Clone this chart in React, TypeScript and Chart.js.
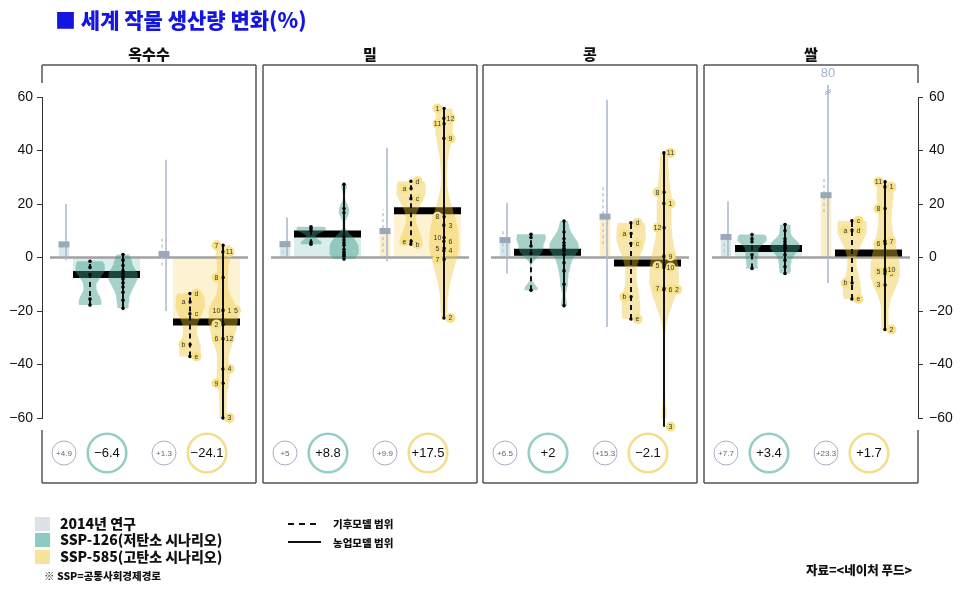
import React, { useEffect, useRef } from 'react';
import { Chart, registerables } from 'chart.js';

Chart.register(...registerables);

// ---------------- data ----------------
const crops = ['옥수수', '밀', '콩', '쌀'];
const yTicks = [-60, -40, -20, 0, 20, 40, 60];

// 2014 study (compared with SSP-126 / SSP-585)
const study2014A = [4.9, 5, 6.5, 7.7];
const study2014B = [1.3, 9.9, 15.3, 23.3];
const study2014AMin = [-1, 0, -6, 0.5];
const study2014AMax = [20, 15, 20.5, 21];
const study2014BMin = [-20, -1.5, -26, -9.5];
const study2014BMax = [36.5, 41, 59, 80];
const study2014AClimMin = [3.5, 1.5, 2, 2];
const study2014AClimMax = [6, 4.5, 10, 6];
const study2014BClimMin = [-3, 2, 5, 17];
const study2014BClimMax = [7, 18, 27, 30];

const median126 = [-6.4, 8.8, 2, 3.4];
const median585 = [-24.1, 17.5, -2.1, 1.7];

const climate126 = [
  [-1.4, -3.7, -6.5, -15.5, -17.8],
  [11.5, 10.8, 10, 5.8, 5],
  [8.7, 7.5, 4.3, 1.5, -12.2],
  [8.6, 7, 5.9, 1, -4.1],
];
const agri126 = [
  [1.1, -1, -3, -5, -6, -7, -8, -9.5, -11, -13, -16, -19],
  [27.4, 18.3, 16.7, 7.7, 6.5, 5.5, 4.6, 3, 2, 1.2, 0.5, -0.6],
  [13.6, 9.5, 7, 5.5, 4.5, 3.5, 2.5, 1, -2, -5, -10, -18],
  [12.3, 10, 7, 6, 5, 4, 3.5, 2.5, 1, -1, -3.5, -6],
];
const climateLabels = ['a', 'b', 'c', 'd', 'e'];
const climate585 = [
  [-16.6, -32.5, -21, -13.5, -37],
  [25.8, 5, 22, 28.5, 6.1],
  [9, -14.7, 5.2, 13, -23],
  [10.2, -9.5, 13.7, 10.2, -15.5],
];
const agriLabels = ['1', '2', '3', '4', '5', '6', '7', '8', '9', '10', '11', '12'];
const agri585: (number | null)[][] = [
  [-19.7, -25, -60, -41.7, -19.7, -30.4, 4.6, -7.5, -47, -19.7, 2.1, -30.4],
  [55.7, -22.6, 12.1, 2.5, 3.4, 6.1, -0.7, 15.2, 44.5, 7.5, 50, 52],
  [20.2, -12, -63.3, null, -3.2, -12, -11.5, 24.4, 0.5, -3.7, 39.1, 11.1],
  [26.4, -26.9, -10.3, null, -5.1, 5.1, 6.1, 18.3, -6, -4.5, 28.3, null],
];

// ---------------- layout (pixels / styles) ----------------
const W = 970;
const H = 593;
const PX_PER_UNIT = 219;
const PANEL_LEFT = [0, 221, 441, 662];
const PANEL_W = 214;
const PANEL_TOP = 65;
const PANEL_BOTTOM = 483;
const AXIS_CAP = 64.5;
const OFF = {
  box126: 22, line126: 24, dash126: 20, clim126: 48, agri126: 81, bar126: [31, 98],
  box585: 122, line585: 124, dash585: 120, clim585: 148, agri585: 181, bar585: [131, 198],
  zero: [8, 206], circles: [22, 65, 122, 165],
};
const VIOLIN_HALF = 15;
const BOX_HALF = 5.5;
const LABEL_STEP = 6.5;
const climate585Side = [
  [-1, -1, 1, 1, 1],
  [-1, 1, 1, 1, -1],
  [-1, -1, 1, 1, 1],
  [-1, -1, 1, 1, 1],
];
const agri585Side = [
  [1, -1, 1, 1, 2, -1, -1, -1, -1, -1, 1, 1],
  [-1, 1, 1, 1, -1, 1, -1, -1, 1, -1, -1, 1],
  [1, 2, 1, 0, -1, 1, -1, -1, 1, 1, 1, -1],
  [1, 1, -1, 0, -1, -1, 1, -1, 1, 1, -1, 0],
];

const NUM_FONT = '"Liberation Sans", Arial, Helvetica, sans-serif';
const KR_FONT = '"Noto Sans CJK KR", "Noto Sans KR", sans-serif';
const TEAL_LIGHT = '#d9eeeb';
const YELLOW_LIGHT = '#fdf3d3';
const TEAL_VIOLIN = 'rgba(62,152,138,0.45)';
const YELLOW_VIOLIN = 'rgba(238,196,50,0.40)';
const GRAY_LINE = '#aab6c8';
const GRAY_BOX = '#9ba8bb';
const TRANSPARENT = 'rgba(0,0,0,0)';

const X = (i: number, off: number) => (PANEL_LEFT[i] + off) / PX_PER_UNIT;

function kde(values: number[], adjust = 0.7) {
  const n = values.length;
  const s = [...values].sort((a, b) => a - b);
  const mean = s.reduce((a, b) => a + b, 0) / n;
  const sd = Math.sqrt(s.reduce((a, b) => a + (b - mean) ** 2, 0) / Math.max(1, n - 1));
  const q = (p: number) => {
    const h = (n - 1) * p;
    const lo = Math.floor(h);
    return s[lo] + (h - lo) * (s[Math.min(lo + 1, n - 1)] - s[lo]);
  };
  const iqr = q(0.75) - q(0.25);
  let spread = Math.min(sd, iqr / 1.34);
  if (!(spread > 0)) spread = sd || 1;
  const bw = 0.9 * spread * Math.pow(n, -0.2) * adjust;
  const min = s[0];
  const max = s[n - 1];
  const steps = 80;
  const out: { y: number; d: number }[] = [];
  for (let k = 0; k <= steps; k++) {
    const y = min + ((max - min) * k) / steps;
    let d = 0;
    for (const v of s) {
      const z = (y - v) / bw;
      d += Math.exp(-0.5 * z * z);
    }
    out.push({ y, d });
  }
  const m = Math.max(...out.map((o) => o.d));
  return out.map((o) => ({ y: o.y, w: o.d / m }));
}

function lineDs(data: { x: number; y: number }[], opts: any) {
  return {
    type: 'line',
    data,
    pointRadius: 0,
    pointHoverRadius: 0,
    borderWidth: 0,
    borderColor: TRANSPARENT,
    fill: false,
    clip: false,
    tension: 0,
    ...opts,
  };
}

function violin(i: number, off: number, values: number[], color: string) {
  const prof = kde(values);
  const right = prof.map((p) => ({ x: X(i, off + p.w * VIOLIN_HALF), y: p.y }));
  const left = prof
    .slice()
    .reverse()
    .map((p) => ({ x: X(i, off - p.w * VIOLIN_HALF), y: p.y }));
  return lineDs([...right, ...left], { fill: 'shape', backgroundColor: color, order: 70 });
}

function hBar(i: number, offs: number[], v: number, opts: any) {
  return lineDs(
    [
      { x: X(i, offs[0]), y: v },
      { x: X(i, offs[1]), y: v },
    ],
    opts
  );
}

function vLine(i: number, off: number, lo: number, hi: number, opts: any) {
  return lineDs(
    [
      { x: X(i, off), y: lo },
      { x: X(i, off), y: Math.min(hi, AXIS_CAP) },
    ],
    opts
  );
}

function buildDatasets() {
  const ds: any[] = [];
  crops.forEach((_, i) => {
    // light fills
    ds.push(hBar(i, OFF.bar126, median126[i], { fill: 'origin', backgroundColor: TEAL_LIGHT, order: 100 }));
    ds.push(hBar(i, OFF.bar585, median585[i], { fill: 'origin', backgroundColor: YELLOW_LIGHT, order: 100 }));
    ds.push(
      hBar(i, [OFF.box126 - BOX_HALF, OFF.box126 + BOX_HALF], study2014A[i], {
        fill: 'origin', backgroundColor: '#d5e9e8', order: 100,
      })
    );
    ds.push(
      hBar(i, [OFF.box585 - BOX_HALF, OFF.box585 + BOX_HALF], study2014B[i], {
        fill: 'origin', backgroundColor: '#fbefca', order: 100,
      })
    );
    // zero line
    ds.push(hBar(i, OFF.zero, 0, { borderColor: '#a2a2a2', borderWidth: 2.5, order: 90 }));
    // median bars
    ds.push(hBar(i, OFF.bar126, median126[i], { borderColor: '#000', borderWidth: 7, borderCapStyle: 'butt', order: 80 }));
    ds.push(hBar(i, OFF.bar585, median585[i], { borderColor: '#000', borderWidth: 7, borderCapStyle: 'butt', order: 80 }));
    // violins
    const a585 = agri585[i].filter((v) => v !== null) as number[];
    ds.push(violin(i, OFF.clim126, climate126[i], TEAL_VIOLIN));
    ds.push(violin(i, OFF.agri126, agri126[i], TEAL_VIOLIN));
    ds.push(violin(i, OFF.clim585, climate585[i], YELLOW_VIOLIN));
    ds.push(violin(i, OFF.agri585, a585, YELLOW_VIOLIN));
    // 2014 study ranges
    ds.push(vLine(i, OFF.line126, study2014AMin[i], study2014AMax[i], { borderColor: GRAY_LINE, borderWidth: 1.5, order: 60 }));
    ds.push(vLine(i, OFF.line585, study2014BMin[i], study2014BMax[i], { borderColor: GRAY_LINE, borderWidth: 1.5, order: 60 }));
    ds.push(
      vLine(i, OFF.dash126, study2014AClimMin[i], study2014AClimMax[i], {
        borderColor: '#bcc7d6', borderWidth: 1.5, borderDash: [3, 3], order: 60,
      })
    );
    ds.push(
      vLine(i, OFF.dash585, study2014BClimMin[i], study2014BClimMax[i], {
        borderColor: '#bcc7d6', borderWidth: 1.5, borderDash: [3, 3], order: 60,
      })
    );
    ds.push(
      hBar(i, [OFF.box126 - BOX_HALF, OFF.box126 + BOX_HALF], study2014A[i], {
        borderColor: GRAY_BOX, borderWidth: 6, borderCapStyle: 'butt', order: 55,
      })
    );
    ds.push(
      hBar(i, [OFF.box585 - BOX_HALF, OFF.box585 + BOX_HALF], study2014B[i], {
        borderColor: GRAY_BOX, borderWidth: 6, borderCapStyle: 'butt', order: 55,
      })
    );
    // model ranges
    const rng = (arr: number[]) => [Math.min(...arr), Math.max(...arr)];
    const [c1l, c1h] = rng(climate126[i]);
    const [a1l, a1h] = rng(agri126[i]);
    const [c5l, c5h] = rng(climate585[i]);
    const [a5l, a5h] = rng(a585);
    const dashOpts = { borderColor: '#111', borderWidth: 2, borderDash: [5, 4], order: 40 };
    const solidOpts = { borderColor: '#111', borderWidth: 2, order: 40 };
    ds.push(vLine(i, OFF.clim126, c1l, c1h, dashOpts));
    ds.push(vLine(i, OFF.agri126, a1l, a1h, solidOpts));
    ds.push(vLine(i, OFF.clim585, c5l, c5h, dashOpts));
    ds.push(vLine(i, OFF.agri585, a5l, a5h, solidOpts));
    // model points
    const pts = [
      ...climate126[i].map((v) => ({ x: X(i, OFF.clim126), y: v })),
      ...agri126[i].map((v) => ({ x: X(i, OFF.agri126), y: v })),
      ...climate585[i].map((v) => ({ x: X(i, OFF.clim585), y: v })),
      ...a585.map((v) => ({ x: X(i, OFF.agri585), y: v })),
    ];
    ds.push(
      lineDs(pts, {
        showLine: false, pointRadius: 1.8, pointBackgroundColor: '#000', pointBorderWidth: 0, order: 30,
      })
    );
  });
  return ds;
}

const fmtSigned = (v: number) => (v > 0 ? '+' : v < 0 ? '\u2212' : '') + Math.abs(v);

const chromePlugin = {
  id: 'chrome',
  beforeDraw(chart: any) {
    const { ctx, chartArea } = chart;
    ctx.save();
    ctx.fillStyle = '#fff';
    ctx.fillRect(0, 0, W, H);
    ctx.strokeStyle = '#555';
    ctx.lineWidth = 1.5;
    crops.forEach((name, i) => {
      const l = chartArea.left + PANEL_LEFT[i];
      const r = l + PANEL_W;
      ctx.beginPath();
      ctx.moveTo(l, PANEL_TOP);
      ctx.lineTo(r, PANEL_TOP);
      ctx.moveTo(l, PANEL_BOTTOM);
      ctx.lineTo(r, PANEL_BOTTOM);
      if (i === 0) {
        ctx.moveTo(l, PANEL_TOP);
        ctx.lineTo(l, PANEL_TOP + 18);
        ctx.moveTo(l, PANEL_BOTTOM - 53);
        ctx.lineTo(l, PANEL_BOTTOM);
      } else {
        ctx.moveTo(l, PANEL_TOP);
        ctx.lineTo(l, PANEL_BOTTOM);
      }
      if (i === crops.length - 1) {
        ctx.moveTo(r, PANEL_TOP);
        ctx.lineTo(r, PANEL_TOP + 18);
        ctx.moveTo(r, PANEL_BOTTOM - 53);
        ctx.lineTo(r, PANEL_BOTTOM);
      } else {
        ctx.moveTo(r, PANEL_TOP);
        ctx.lineTo(r, PANEL_BOTTOM);
      }
      ctx.stroke();
      ctx.fillStyle = '#111';
      ctx.font = `900 15px ${KR_FONT}`;
      ctx.textAlign = 'center';
      ctx.textBaseline = 'middle';
      ctx.fillText(name, l + PANEL_W / 2, 54);
    });
    ctx.fillStyle = '#1515e0';
    ctx.font = `900 21px ${KR_FONT}`;
    ctx.textAlign = 'left';
    ctx.textBaseline = 'middle';
    ctx.fillText('■ 세계 작물 생산량 변화(%)', 55, 20);
    ctx.restore();
  },
  afterDraw(chart: any) {
    const { ctx } = chart;
    const xs = chart.scales.x;
    const ys = chart.scales.y;
    ctx.save();
    const drawLabel = (px: number, py: number, txt: string) => {
      ctx.beginPath();
      ctx.arc(px, py, 5, 0, Math.PI * 2);
      ctx.fillStyle = '#f7e28a';
      ctx.fill();
      ctx.fillStyle = '#333';
      ctx.font = `7px ${NUM_FONT}`;
      ctx.textAlign = 'center';
      ctx.textBaseline = 'middle';
      ctx.fillText(txt, px, py + 0.5);
    };
    crops.forEach((_, i) => {
      climate585[i].forEach((v, k) => {
        const px = xs.getPixelForValue(X(i, OFF.clim585)) + climate585Side[i][k] * LABEL_STEP;
        drawLabel(px, ys.getPixelForValue(v), climateLabels[k]);
      });
      agri585[i].forEach((v, k) => {
        if (v === null) return;
        const px = xs.getPixelForValue(X(i, OFF.agri585)) + agri585Side[i][k] * LABEL_STEP;
        drawLabel(px, ys.getPixelForValue(v), agriLabels[k]);
      });
      if (study2014BMax[i] > 60) {
        const px = xs.getPixelForValue(X(i, OFF.line585));
        const py = ys.getPixelForValue(AXIS_CAP);
        ctx.fillStyle = '#a3b3ca';
        ctx.font = `13px ${NUM_FONT}`;
        ctx.textAlign = 'center';
        ctx.textBaseline = 'middle';
        ctx.fillText(String(study2014BMax[i]), px, py - 12);
        const by = ys.getPixelForValue(62);
        ctx.strokeStyle = '#9fb0c6';
        ctx.lineWidth = 1;
        ctx.beginPath();
        ctx.moveTo(px - 3, by + 1);
        ctx.lineTo(px + 3, by - 2);
        ctx.moveTo(px - 3, by + 3);
        ctx.lineTo(px + 3, by);
        ctx.stroke();
      }
      const cy = 453;
      const circ = (off: number, r: number, lw: number, color: string, txt: string, font: string, tc: string) => {
        const px = xs.getPixelForValue(X(i, off));
        ctx.beginPath();
        ctx.arc(px, cy, r, 0, Math.PI * 2);
        ctx.strokeStyle = color;
        ctx.lineWidth = lw;
        ctx.stroke();
        ctx.fillStyle = tc;
        ctx.font = font;
        ctx.textAlign = 'center';
        ctx.textBaseline = 'middle';
        ctx.fillText(txt, px, cy + 0.5);
      };
      circ(OFF.circles[0], 12, 1, '#a7afc5', fmtSigned(study2014A[i]), `8px ${NUM_FONT}`, '#666');
      circ(OFF.circles[1], 19.3, 2.6, '#96cdc5', fmtSigned(median126[i]), `13px ${NUM_FONT}`, '#111');
      circ(OFF.circles[2], 12, 1, '#a7afc5', fmtSigned(study2014B[i]), `8px ${NUM_FONT}`, '#666');
      circ(OFF.circles[3], 19.3, 2.6, '#f3de8c', fmtSigned(median585[i]), `13px ${NUM_FONT}`, '#111');
    });

    const sw = [
      ['#dde2e8', '2014년 연구', 524],
      ['#8ccbc4', 'SSP-126(저탄소 시나리오)', 540],
      ['#f7e49a', 'SSP-585(고탄소 시나리오)', 557],
    ] as [string, string, number][];
    sw.forEach(([c, t, y]) => {
      ctx.fillStyle = c;
      ctx.fillRect(35, y - 7, 15, 14);
      ctx.fillStyle = '#111';
      ctx.font = `900 14px ${KR_FONT}`;
      ctx.textAlign = 'left';
      ctx.textBaseline = 'middle';
      ctx.fillText(t, 60, y);
    });
    ctx.font = `900 10.5px ${KR_FONT}`;
    ctx.fillText('※ SSP=공통사회경제경로', 44, 576);

    ctx.strokeStyle = '#111';
    ctx.lineWidth = 2;
    ctx.setLineDash([6, 5]);
    ctx.beginPath();
    ctx.moveTo(288, 524);
    ctx.lineTo(321, 524);
    ctx.stroke();
    ctx.setLineDash([]);
    ctx.beginPath();
    ctx.moveTo(288, 542);
    ctx.lineTo(321, 542);
    ctx.stroke();
    ctx.font = `900 10.5px ${KR_FONT}`;
    ctx.fillStyle = '#111';
    ctx.fillText('기후모델 범위', 333, 524);
    ctx.fillText('농업모델 범위', 333, 543);

    ctx.font = `900 12.5px ${KR_FONT}`;
    ctx.fillText('자료=<네이처 푸드>', 806, 570);
    ctx.restore();
  },
};

const tickFmt = (v: any) => (Number(v) < 0 ? '\u2212' + Math.abs(Number(v)) : String(v));

function yAxis(position: 'left' | 'right', width: number, padding: number) {
  return {
    type: 'linear',
    position,
    min: -60,
    max: 60,
    afterBuildTicks: (s: any) => {
      s.ticks = yTicks.map((v) => ({ value: v }));
    },
    afterFit: (s: any) => {
      s.width = width;
    },
    ticks: {
      font: { size: 14, family: NUM_FONT },
      color: '#111',
      padding,
      callback: tickFmt,
    },
    grid: { drawOnChartArea: false, drawTicks: true, tickLength: 5, tickColor: '#333', tickWidth: 1 },
    border: { display: true, color: '#333', width: 1 },
  };
}

export default function App() {
  const ref = useRef<HTMLCanvasElement>(null);
  useEffect(() => {
    document.body.style.margin = '0';
    const chart = new Chart(ref.current as HTMLCanvasElement, {
      type: 'line',
      data: { datasets: buildDatasets() },
      options: {
        responsive: false,
        devicePixelRatio: 1,
        animation: false,
        events: [],
        layout: { padding: { left: 0, right: 0, top: 97, bottom: 175 } },
        plugins: { legend: { display: false }, tooltip: { enabled: false } },
        scales: {
          x: { type: 'linear', min: 0, max: 4, display: false },
          y: yAxis('left', 42, 4),
          y2: yAxis('right', 52, 6),
        },
      } as any,
      plugins: [chromePlugin],
    } as any);
    return () => chart.destroy();
  }, []);
  return <canvas ref={ref} width={W} height={H} style={{ display: 'block', width: W, height: H }} />;
}
